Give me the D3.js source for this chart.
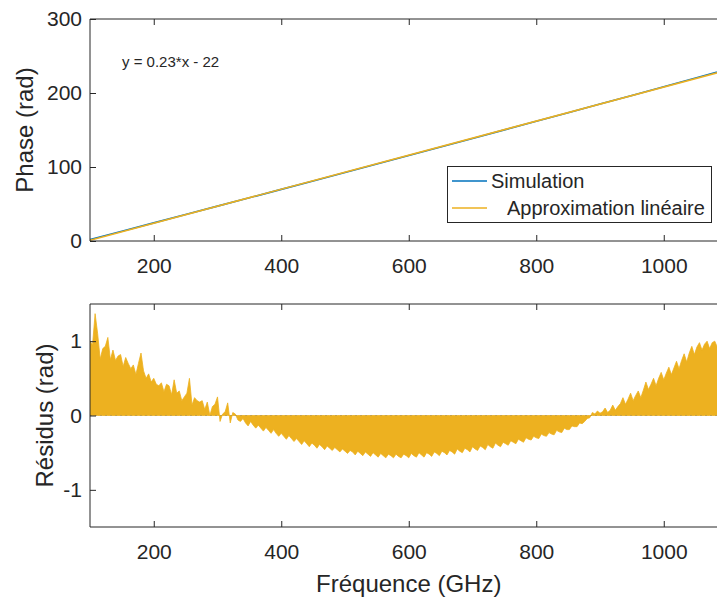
<!DOCTYPE html>
<html>
<head>
<meta charset="utf-8">
<script src="https://cdn.jsdelivr.net/npm/d3@7"></script>
<style>
  html, body { margin: 0; padding: 0; background: #fff; overflow: hidden; }
  svg { display: block; }
  text { font-family: "Liberation Sans", Arial, Helvetica, sans-serif; fill: #262626; }
</style>
</head>
<body>
<svg id="chart" width="717" height="599"></svg>
<script>
// ---------- data ----------
const fitSlope = 0.23;
const fitIntercept = -22;
const fitLabel = "y = 0.23*x - 22";

const simFreq = [100,150,200,250,300,350,400,450,500,550,600,650,700,750,800,850,900,950,1000,1050,1100];
const simPhase = [2.0,13.3,24.5,35.8,47.1,58.4,69.75,81.1,92.53,103.98,115.48,127.0,138.58,150.14,161.72,173.32,185.04,196.75,208.5,220.4,231.97];

const resStart = 100, resStep = 4;
const residuals = [
  1.0, 0.95, 1.37, 1.1, 0.76, 0.9, 0.93, 1.05, 0.75, 0.88,
  0.74, 0.8, 0.82, 0.66, 0.78, 0.7, 0.63, 0.68, 0.55, 0.7,
  0.84, 0.6, 0.5, 0.56, 0.45, 0.5, 0.42, 0.4, 0.44, 0.32,
  0.42, 0.4, 0.28, 0.48, 0.3, 0.33, 0.2, 0.25, 0.3, 0.5,
  0.14, 0.24, 0.2, 0.18, 0.2, 0.08, 0.18, 0.0, 0.12, 0.15,
  0.25, -0.08, 0.02, 0.05, 0.17, -0.1, 0.04, 0.02, -0.06, -0.08,
  -0.04, -0.1, -0.14, -0.08, -0.13, -0.17, -0.13, -0.17, -0.21, -0.16,
  -0.2, -0.24, -0.19, -0.24, -0.28, -0.24, -0.28, -0.32, -0.27, -0.31,
  -0.35, -0.31, -0.35, -0.39, -0.34, -0.38, -0.42, -0.37, -0.4, -0.44,
  -0.39, -0.42, -0.46, -0.41, -0.44, -0.47, -0.43, -0.46, -0.49, -0.45,
  -0.48, -0.51, -0.47, -0.49, -0.53, -0.48, -0.51, -0.54, -0.49, -0.52,
  -0.55, -0.5, -0.53, -0.56, -0.51, -0.54, -0.57, -0.52, -0.54, -0.57,
  -0.52, -0.55, -0.57, -0.52, -0.54, -0.57, -0.51, -0.54, -0.56, -0.5,
  -0.53, -0.56, -0.5, -0.52, -0.55, -0.49, -0.51, -0.54, -0.48, -0.5,
  -0.53, -0.47, -0.49, -0.52, -0.45, -0.48, -0.5, -0.44, -0.46, -0.49,
  -0.42, -0.45, -0.47, -0.41, -0.43, -0.46, -0.39, -0.42, -0.44, -0.37,
  -0.4, -0.42, -0.36, -0.38, -0.4, -0.34, -0.36, -0.38, -0.32, -0.34,
  -0.36, -0.3, -0.32, -0.33, -0.28, -0.3, -0.31, -0.25, -0.27, -0.28,
  -0.23, -0.25, -0.26, -0.2, -0.22, -0.23, -0.17, -0.19, -0.19, -0.14,
  -0.15, -0.15, -0.1, -0.11, -0.08, -0.04, -0.03, 0.04, 0.02, 0.06,
  0.03, 0.05, 0.1, 0.04, 0.07, 0.14, 0.07, 0.12, 0.16, 0.24,
  0.15, 0.22, 0.3, 0.2, 0.27, 0.33, 0.24, 0.34, 0.45, 0.35,
  0.42, 0.5, 0.4, 0.5, 0.58, 0.48, 0.57, 0.65, 0.55, 0.64,
  0.73, 0.63, 0.74, 0.83, 0.72, 0.84, 0.93, 0.82, 0.92, 0.98,
  0.88, 0.96, 1.0, 0.9, 0.98, 1.0, 0.92, 0.97, 1.0, 0.95,
  0.98
];

const xTicks = [200, 400, 600, 800, 1000];
const phaseTicks = [0, 100, 200, 300];
const resTicks = [-1, 0, 1];
const legendLabels = ["Simulation", "Approximation linéaire"];

// ---------- layout ----------
const svg = d3.select("#chart");
const colSim = "#0072BD", colFit = "#EDB120", axisCol = "#262626";
const L = 90, R = 727.5;
const top1 = 19, bot1 = 241, top2 = 304, bot2 = 527;

const x = d3.scaleLinear().domain([100, 1100]).range([L, R]);
const y1 = d3.scaleLinear().domain([0, 300]).range([bot1, top1]);
const y2 = d3.scaleLinear().domain([-1.5, 1.5]).range([bot2, top2]);
const plainFmt = d => String(d);

svg.append("defs").html(
  `<clipPath id="c1"><rect x="${L}" y="${top1}" width="${R-L}" height="${bot1-top1}"/></clipPath>
   <clipPath id="c2"><rect x="${L}" y="${top2}" width="${R-L}" height="${bot2-top2}"/></clipPath>`);

function styleAxis(g) {
  g.select(".domain").remove();
  g.selectAll(".tick line").attr("stroke", axisCol).attr("stroke-width", 1);
  g.selectAll(".tick text").style("font-size", "21px").attr("fill", axisCol);
}

function frame(top, bot, y, yTicks) {
  svg.append("g").attr("transform", `translate(0,${bot})`)
    .call(d3.axisBottom(x).tickValues(xTicks).tickSizeInner(-6).tickSizeOuter(0).tickPadding(17).tickFormat(plainFmt))
    .call(styleAxis);
  svg.append("g").attr("transform", `translate(0,${top})`)
    .call(d3.axisTop(x).tickValues(xTicks).tickSizeInner(-6).tickSizeOuter(0).tickFormat(""))
    .call(styleAxis);
  svg.append("g").attr("transform", `translate(${L},0)`)
    .call(d3.axisLeft(y).tickValues(yTicks).tickSizeInner(-6).tickSizeOuter(0).tickPadding(8).tickFormat(plainFmt))
    .call(styleAxis);
  svg.append("path")
    .attr("d", `M${R},${top}H${L}V${bot}H${R}`)
    .attr("fill", "none").attr("stroke", axisCol).attr("stroke-width", 1);
}

// ---------- top plot ----------
const g1 = svg.append("g").attr("clip-path", "url(#c1)");
const lineGen = d3.line().x(d => x(d[0])).y(d => y1(d[1]));
g1.append("path")
  .datum(simFreq.map((f, i) => [f, simPhase[i]]))
  .attr("d", lineGen).attr("fill", "none").attr("stroke", colSim).attr("stroke-width", 1.6);
g1.append("path")
  .datum([100, 1100].map(f => [f, fitSlope * f + fitIntercept]))
  .attr("d", lineGen).attr("fill", "none").attr("stroke", colFit).attr("stroke-width", 1.6);

frame(top1, bot1, y1, phaseTicks);

svg.append("text").attr("x", 122).attr("y", 67).style("font-size", "15px").text(fitLabel);

const lg = svg.append("g");
lg.append("rect").attr("x", 447.5).attr("y", 166.5).attr("width", 264).attr("height", 56)
  .attr("fill", "#fff").attr("stroke", axisCol).attr("stroke-width", 1);
[[colSim, 181, 491], [colFit, 208, 507]].forEach((e, i) => {
  lg.append("line").attr("x1", 452).attr("x2", 487).attr("y1", e[1]).attr("y2", e[1])
    .attr("stroke", e[0]).attr("stroke-width", 1.6);
  lg.append("text").attr("x", e[2]).attr("y", e[1] + 7).style("font-size", "20px").text(legendLabels[i]);
});

svg.append("text")
  .attr("transform", `translate(33,${(top1 + bot1) / 2}) rotate(-90)`)
  .attr("text-anchor", "middle").style("font-size", "24px").text("Phase (rad)");

// ---------- bottom plot ----------
const resData = residuals.map((v, i) => [resStart + i * resStep, v]);
const g2 = svg.append("g").attr("clip-path", "url(#c2)");
g2.append("path").datum(resData)
  .attr("d", d3.area().x(d => x(d[0])).y0(y2(0)).y1(d => y2(d[1])))
  .attr("fill", colFit).attr("stroke", colFit).attr("stroke-width", 0.8);
g2.append("line").attr("x1", L).attr("x2", R).attr("y1", y2(0)).attr("y2", y2(0))
  .attr("stroke", "#9a8a60").attr("stroke-width", 1).attr("stroke-dasharray", "2,3").attr("opacity", 0.5);

frame(top2, bot2, y2, resTicks);

svg.append("text")
  .attr("transform", `translate(53,${(top2 + bot2) / 2}) rotate(-90)`)
  .attr("text-anchor", "middle").style("font-size", "24px").text("Résidus (rad)");

svg.append("text")
  .attr("x", (L + R) / 2).attr("y", 592)
  .attr("text-anchor", "middle").style("font-size", "24px").text("Fréquence (GHz)");
</script>
</body>
</html>
